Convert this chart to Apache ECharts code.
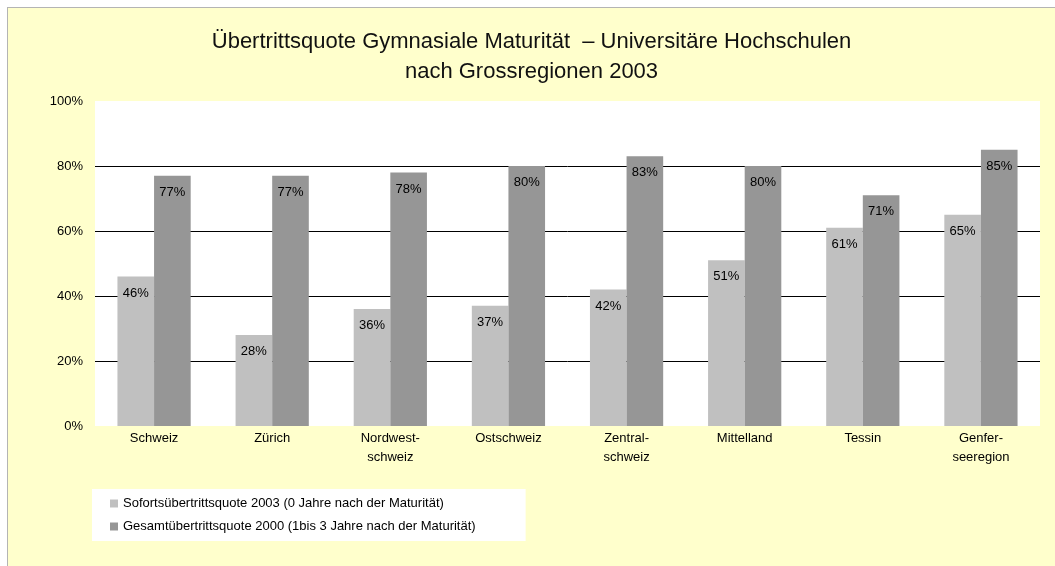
<!DOCTYPE html>
<html>
<head>
<meta charset="utf-8">
<script src="https://cdn.jsdelivr.net/npm/echarts@6/dist/echarts.min.js"></script>
<style>
  html, body { margin: 0; padding: 0; background: #fff; }
  #chart {
    position: absolute; left: 7px; top: 7px;
    width: 1047px; height: 558px;
    border-left: 1px solid #b4b4b4; border-top: 1px solid #b4b4b4;
  }
</style>
</head>
<body>
<div id="chart"></div>
<script>
// Grossregionen
const regions = ['Schweiz', 'Zürich', 'Nordwest-\nschweiz', 'Ostschweiz', 'Zentral-\nschweiz', 'Mittelland', 'Tessin', 'Genfer-\nseeregion'];
// Sofortübertritt 2003 / Gesamtübertritt 2000 (in %)
const sofort2003 = [46, 28, 36, 37, 42, 51, 61, 65];
const gesamt2000 = [77, 77, 78, 80, 83, 80, 71, 85];
const seriesNames = [
  'Sofortsübertrittsquote 2003 (0 Jahre nach der Maturität)',
  'Gesamtübertrittsquote 2000 (1bis 3 Jahre nach der Maturität)'
];

const font = "'Liberation Sans', Arial, sans-serif";
const chart = echarts.init(document.getElementById('chart'));

const labelOpt = {
  show: true,
  position: 'insideTop',
  distance: 10,
  color: '#000',
  fontSize: 13,
  fontFamily: font,
  formatter: p => p.value + '%'
};

chart.setOption({
  backgroundColor: '#FFFFCC',
  animation: false,
  title: {
    text: 'Übertrittsquote Gymnasiale Maturität  – Universitäre Hochschulen\nnach Grossregionen 2003',
    left: 'center',
    top: 14,
    textStyle: { fontFamily: font, fontWeight: 'normal', fontSize: 22, color: '#111', lineHeight: 30 }
  },
  grid: {
    left: 87, right: 15, top: 93, bottom: 140,
    show: true, backgroundColor: '#fff', borderWidth: 0
  },
  legend: {
    orient: 'vertical',
    left: 84, top: 481,
    backgroundColor: '#fff',
    padding: [8, 50, 8, 18],
    itemGap: 10,
    itemWidth: 8, itemHeight: 8,
    icon: 'rect',
    textStyle: { fontFamily: font, fontSize: 13, color: '#000' },
    data: seriesNames
  },
  xAxis: {
    type: 'category',
    data: regions,
    axisLine: { show: false },
    axisTick: { show: false },
    axisLabel: { fontFamily: font, fontSize: 13, color: '#000', margin: 3, lineHeight: 19 }
  },
  yAxis: {
    type: 'value',
    min: 0, max: 100, interval: 20,
    axisLine: { show: false },
    axisTick: { show: false },
    axisLabel: { fontFamily: font, fontSize: 13, color: '#000', margin: 12, formatter: '{value}%' },
    splitLine: { lineStyle: { color: ['transparent', '#000', '#000', '#000', '#000', 'transparent'], width: 1 } }
  },
  series: [
    {
      name: seriesNames[0],
      type: 'bar',
      data: sofort2003,
      barGap: 0,
      barCategoryGap: '38%',
      itemStyle: { color: '#C0C0C0' },
      label: labelOpt
    },
    {
      name: seriesNames[1],
      type: 'bar',
      data: gesamt2000,
      itemStyle: { color: '#969696' },
      label: labelOpt
    }
  ]
});
</script>
</body>
</html>
